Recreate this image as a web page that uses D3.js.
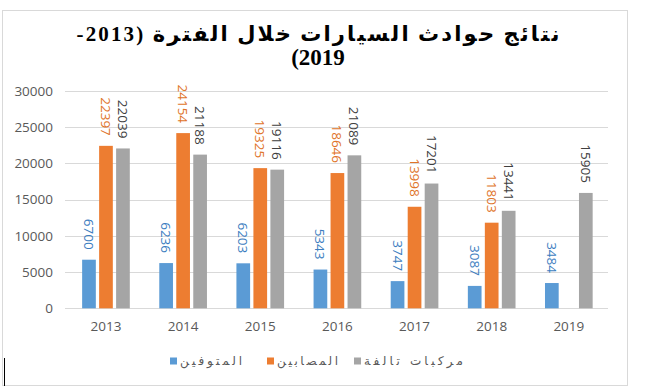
<!DOCTYPE html>
<html>
<head>
<meta charset="utf-8">
<script src="https://cdn.jsdelivr.net/npm/d3@7"></script>
<style>
  html, body { margin: 0; padding: 0; background: #fff; }
  svg { display: block; }
</style>
</head>
<body>
<svg id="chart" width="650" height="387"></svg>
<script>
const years = ["2013", "2014", "2015", "2016", "2017", "2018", "2019"];
const seriesNames = ["المتوفين", "المصابين", "مركبات تالفة"];
const deceased = [6700, 6236, 6203, 5343, 3747, 3087, 3484];
const injured = [22397, 24154, 19325, 18646, 13998, 11803, null];
const damaged = [22039, 21188, 19116, 21089, 17201, 13441, 15905];
const yTicks = [0, 5000, 10000, 15000, 20000, 25000, 30000];
const titleLines = ["نتائج حوادث السيارات خلال الفترة  (2013-", "2019)"];

const barColors = ["#5B9BD5", "#ED7D31", "#A5A5A5"];
const labelColors = ["#3C7DC0", "#E0742A", "#404040"];
const seriesData = [deceased, injured, damaged];

const svg = d3.select("#chart");

// frame
svg.append("rect").attr("x", 2.5).attr("y", 10.5).attr("width", 625).attr("height", 375)
  .attr("fill", "#fff").attr("stroke", "#D9D9D9").attr("stroke-width", 1);

// title
const titleWidths = [483, null];
const titleY = [41, 65];
const title = svg.append("g");
titleLines.forEach((t, i) => {
  const tx = title.append("text")
    .attr("x", 318).attr("y", titleY[i])
    .attr("text-anchor", "middle")
    .attr("direction", "rtl")
    .style("font-family", "'Liberation Serif', 'DejaVu Sans', sans-serif")
    .style("font-weight", "bold")
    .style("font-size", "21px")
    .attr("fill", "#000")
    .text(t);
  if (titleWidths[i]) tx.attr("textLength", titleWidths[i]).attr("lengthAdjust", "spacing");
  else tx.style("font-size", "23px");
});

const y = d3.scaleLinear().domain([0, 30000]).range([308.3, 90.7]);
const x0 = d3.scaleBand().domain(years).range([67.4, 607.4]).paddingInner(0.382).paddingOuter(0.191);
const x1 = d3.scaleBand().domain(d3.range(3)).range([0, x0.bandwidth()]).paddingInner(0.194);

// gridlines
svg.append("g").selectAll("line").data(yTicks).join("line")
  .attr("x1", 65).attr("x2", 608)
  .attr("y1", d => Math.round(y(d)) + 0.5).attr("y2", d => Math.round(y(d)) + 0.5)
  .attr("stroke", "#D9D9D9").attr("stroke-width", 1);

// y axis labels
const yAxis = d3.axisLeft(y).tickValues(yTicks).tickSize(0).tickPadding(0).tickFormat(d3.format("d"));
const gy = svg.append("g").attr("transform", "translate(53,0)").call(yAxis);
gy.select(".domain").remove();
gy.selectAll("text").style("font-family", "'Open Sans', sans-serif").style("font-size", "13.5px").attr("fill", "#595959");

// x axis labels
const xAxis = d3.axisBottom(x0).tickSize(0).tickPadding(0);
const gx = svg.append("g").attr("transform", "translate(0,321)").call(xAxis);
gx.select(".domain").remove();
gx.selectAll("text").style("font-family", "'Open Sans', sans-serif").style("font-size", "13.5px").attr("fill", "#595959");

// bars
const groups = svg.append("g").selectAll("g").data(years).join("g")
  .attr("transform", d => `translate(${x0(d)},0)`);

groups.each(function(yr, yi) {
  const g = d3.select(this);
  const vals = seriesData.map((s, si) => ({ si, v: s[yi] })).filter(d => d.v != null);
  g.selectAll("rect").data(vals).join("rect")
    .attr("x", d => x1(d.si)).attr("width", x1.bandwidth())
    .attr("y", d => y(d.v)).attr("height", d => y(0) - y(d.v))
    .attr("fill", d => barColors[d.si]);
  g.selectAll("text").data(vals).join("text")
    .attr("transform", d => `translate(${x1(d.si) + x1.bandwidth() / 2},${y(d.v) - 10}) rotate(90)`)
    .attr("text-anchor", "end")
    .attr("dominant-baseline", "central")
    .style("font-family", "'Open Sans', sans-serif")
    .style("font-size", "13.5px")
    .attr("fill", d => labelColors[d.si])
    .text(d => d.v);
});

// legend
const legendX = [170, 267, 354];
const legendTextW = [62, 61, 99];
const legend = svg.append("g").selectAll("g").data(seriesNames).join("g")
  .attr("transform", (d, i) => `translate(${legendX[i]},361)`);
legend.append("rect").attr("x", 0).attr("y", -3.5).attr("width", 7).attr("height", 7)
  .attr("fill", (d, i) => barColors[i]);
legend.append("text").attr("x", 10).attr("y", 0)
  .attr("dominant-baseline", "central")
  .attr("direction", "rtl")
  .attr("text-anchor", "end")
  .attr("textLength", (d, i) => legendTextW[i])
  .attr("lengthAdjust", "spacing")
  .style("font-family", "'DejaVu Sans', sans-serif")
  .style("font-size", "12px")
  .attr("fill", "#595959")
  .text(d => d);

// small dark mark at lower left
svg.append("line").attr("x1", 4.5).attr("x2", 4.5).attr("y1", 358).attr("y2", 386)
  .attr("stroke", "#000").attr("stroke-width", 1);
</script>
</body>
</html>
